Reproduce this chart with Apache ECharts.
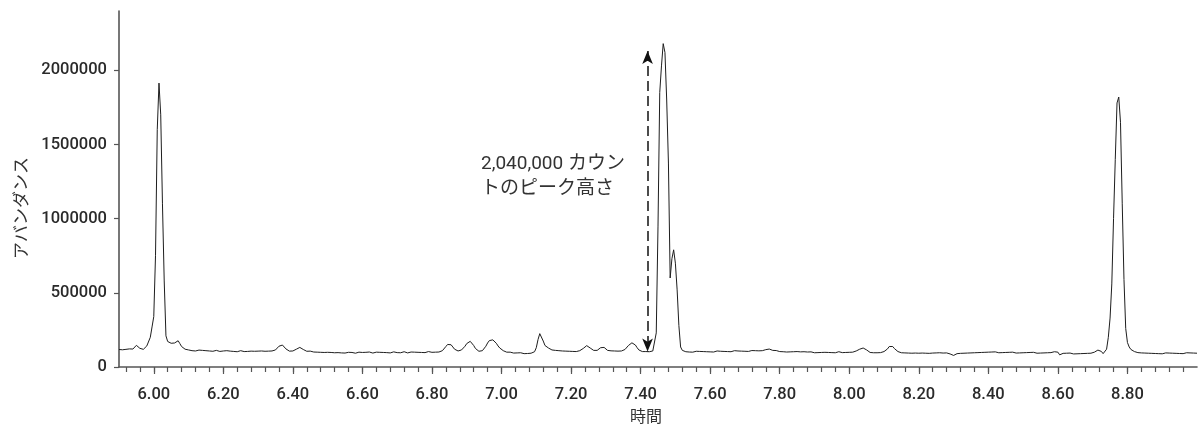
<!DOCTYPE html>
<html><head><meta charset="utf-8">
<script src="https://cdn.jsdelivr.net/npm/echarts@6/dist/echarts.min.js"></script>
<style>html,body{margin:0;padding:0;background:#fff}#c{width:1200px;height:429px}</style>
</head><body><div id="c"></div>
<script>
// Sampling grid of the chromatogram (minutes)
const T_START = 5.90;
const T_STEP = 0.005;
// Abundance, in thousands of counts (20 samples = 0.1 min per row)
const abund_590_640 = [
  118,121,116,120,119,117,122,118,121,132,146,140,126,117,119,128,142,150,200,270,
  340,750,1600,1914,1700,1100,580,210,172,165,160,156,162,172,177,158,138,126,120,116,
  115,112,110,113,108,111,114,109,112,107,110,113,108,111,106,109,112,108,105,109,
  108,106,110,104,107,109,105,108,103,106,110,107,104,108,105,103,107,109,106,104,
  107,105,108,104,106,103,107,105,108,110,115,125,140,150,148,135,122,113,107,105
];
const abund_640_690 = [
  108,112,120,128,132,128,118,110,106,104,107,103,101,104,100,103,99,102,98,101,
  99,95,98,101,96,93,97,100,95,98,94,97,99,95,98,96,93,97,100,96,
  98,95,99,96,101,97,94,98,100,96,99,95,98,101,97,99,95,98,102,99,
  97,100,96,99,103,98,95,99,101,97,100,96,99,102,98,101,97,100,104,101,
  99,103,100,104,101,105,110,120,138,152,157,150,135,120,112,108,110,115,125,140
];
const abund_690_740 = [
  158,170,173,165,145,125,112,106,105,110,122,140,162,178,184,183,175,160,142,128,
  118,110,103,100,97,100,96,94,98,95,92,96,93,90,94,91,95,93,97,103,
  130,185,225,215,175,145,135,128,120,115,118,112,115,110,113,108,112,107,110,106,
  109,105,108,104,107,110,115,125,138,144,140,128,118,112,108,112,118,130,138,132,
  120,112,106,109,105,108,104,107,110,108,112,118,130,145,158,163,160,148,130,115
];
const abund_740_790 = [
  108,104,102,104,101,103,105,108,120,230,950,1850,2030,2180,2120,1800,1375,600,730,790,
  700,520,280,135,112,106,103,105,101,104,100,103,106,102,105,101,104,107,103,106,
  102,105,101,104,108,103,106,102,105,109,104,107,103,106,110,105,108,104,107,111,
  106,109,105,108,111,107,110,106,109,112,110,114,117,119,121,117,112,108,111,106,
  104,108,103,106,101,105,102,99,103,100,104,98,102,99,103,97,101,98,102,99
];
const abund_790_840 = [
  96,100,97,101,98,95,99,102,98,101,97,100,96,99,103,100,97,101,98,102,
  99,103,100,104,108,113,120,126,128,124,115,106,98,94,96,99,96,100,97,101,
  104,110,122,138,144,138,124,112,104,99,96,98,95,97,94,96,93,97,94,96,
  93,96,94,97,93,95,92,96,94,91,95,93,96,92,94,91,95,92,88,84,
  78,84,90,95,92,96,93,97,94,98,95,99,96,100,97,101,98,102,99,103
];
const abund_840_890 = [
  100,104,101,98,102,99,96,100,97,101,98,95,99,96,100,97,94,98,95,99,
  96,100,97,94,98,95,99,96,93,97,94,98,95,92,96,93,97,99,103,106,
  100,82,88,92,89,93,90,94,91,88,92,89,93,90,94,91,95,92,96,93,
  97,100,106,114,118,105,90,84,120,200,330,560,1000,1400,1780,1820,1650,1100,590,260,
  165,135,118,110,104,100,97,99,95,98,94,97,93,96,92,95,91,94,90,93
];
const abund_890_900 = [
  89,92,95,91,94,90,93,89,92,95,91,94,90,93,96,92,95,91,94,92,93
];

// Axis ticks and labels
const xLabelValues = [6.0,6.2,6.4,6.6,6.8,7.0,7.2,7.4,7.6,7.8,8.0,8.2,8.4,8.6,8.8];
const yLabelValues = [0,500000,1000000,1500000,2000000];

// Annotation (peak-height arrow)
const arrowTime = 7.42;
const arrowTop = 2130000;
const arrowBottom = 105000;
const annotationText = '2,040,000 カウン\nトのピーク高さ';

const allK = [].concat(abund_590_640, abund_640_690, abund_690_740, abund_740_790,
                       abund_790_840, abund_840_890, abund_890_900);
const seriesData = allK.map((v, i) => [+(T_START + i * T_STEP).toFixed(3), v * 1000]);

const minorTicks = [];
for (let k = 0; k < 77; k++) minorTicks.push(+(5.92 + k * 0.04).toFixed(2));

const labelFont = 'Roboto';
const chart = echarts.init(document.getElementById('c'));
chart.setOption({
  animation: false,
  backgroundColor: '#fff',
  grid: { left: 119, right: 3, top: 11, bottom: 62 },
  xAxis: [{
    type: 'value', min: 5.9, max: 9.0, position: 'bottom',
    name: '時間', nameLocation: 'middle', nameGap: 36,
    nameTextStyle: { fontFamily: 'Noto Sans CJK JP', fontSize: 16, color: '#333', padding: [0, 24, 0, 0] },
    axisLine: { show: true, lineStyle: { color: '#555', width: 1.6 } },
    axisTick: { show: true, customValues: xLabelValues, length: 7, lineStyle: { color: '#555', width: 1.2 } },
    axisLabel: { customValues: xLabelValues, margin: 19, fontFamily: labelFont, fontWeight: 500,
                 fontSize: 16.5, color: '#2a2a2a', formatter: v => v.toFixed(2) },
    splitLine: { show: false }
  }, {
    type: 'value', min: 5.9, max: 9.0, position: 'bottom',
    axisLine: { show: false },
    axisTick: { show: true, customValues: minorTicks, length: 5, lineStyle: { color: '#555', width: 1.2 } },
    axisLabel: { show: false },
    splitLine: { show: false }
  }],
  yAxis: {
    type: 'value', min: 0, max: 2400000,
    name: 'アバンダンス', nameLocation: 'middle', nameGap: 90, nameRotate: 90,
    nameTextStyle: { fontFamily: 'Noto Sans CJK JP', fontSize: 17, color: '#333', padding: [0, 38, 0, 0] },
    axisLine: { show: true, lineStyle: { color: '#555', width: 1.6 } },
    axisTick: { show: true, customValues: yLabelValues, length: 5, lineStyle: { color: '#555', width: 1.2 } },
    axisLabel: { customValues: yLabelValues, margin: 12, fontFamily: labelFont, fontWeight: 500,
                 fontSize: 16.5, color: '#2a2a2a', formatter: v => String(Math.round(v)) },
    splitLine: { show: false }
  },
  series: [{
    type: 'line', xAxisIndex: 0, data: seriesData, symbol: 'none', sampling: null,
    lineStyle: { color: '#1e1e1e', width: 1 },
    markLine: {
      silent: true, symbol: ['arrow', 'arrow'], symbolSize: [8, 13],
      label: { show: false },
      lineStyle: { color: '#111', width: 1.5, type: [10, 5] },
      data: [[{ coord: [arrowTime, arrowTop] }, { coord: [arrowTime, arrowBottom] }]]
    }
  }],
  graphic: [{
    type: 'text', left: 481, top: 152,
    style: { text: annotationText, fontFamily: 'Roboto, "Noto Sans CJK JP"', fontSize: 19,
             lineHeight: 24.5, fill: '#333' }
  }]
});
</script></body></html>
